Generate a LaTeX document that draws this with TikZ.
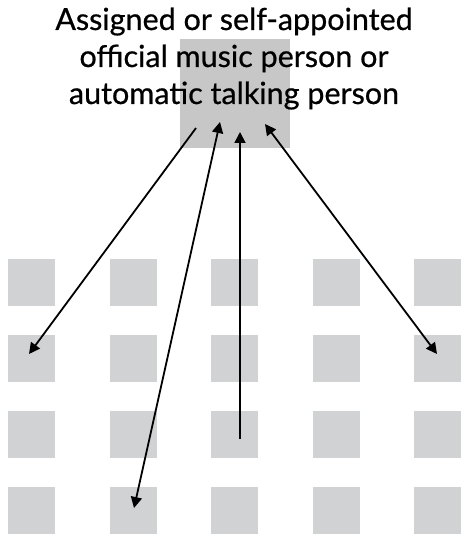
\documentclass[tikz,border=0pt]{standalone}
\usepackage{fontspec}
\setmainfont{Lato}[FakeBold=0.6]
\usetikzlibrary{arrows.meta}
\definecolor{topgray}{HTML}{C7C7C8}
\definecolor{gridgray}{HTML}{D1D2D4}
\tikzset{
  cell/.style={fill=gridgray,draw=none,minimum width=47pt,minimum height=47pt,inner sep=0pt,outer sep=0pt,anchor=north west},
  topbox/.style={fill=topgray,draw=none,minimum width=110pt,minimum height=109pt,inner sep=0pt,anchor=north west},
  conn/.style={line width=1.8pt,-{Triangle[length=11pt,width=11pt]}},
  conn2/.style={line width=1.8pt,{Triangle[length=11pt,width=11pt]}-{Triangle[length=11pt,width=11pt]}},
  title/.style={font=\fontsize{30.5}{37}\selectfont\bfseries,align=center,inner sep=0pt}
}
\begin{document}
\begin{tikzpicture}[x=1pt,y=-1pt]
\useasboundingbox (0,0) rectangle (461,537);
\node[topbox] (top) at (180,39) {};
\foreach \r/\yy in {0/259,1/335,2/411,3/487}{
  \foreach \c/\xx in {0/8,1/110,2/211,3/313,4/414}{
    \node[cell] (g\r\c) at (\xx,\yy) {};
  }
}
\node[title,font=\fontsize{30.5}{37}\selectfont,anchor=base] (lab) at (234,104) {Assigned or self-appointed\\official music person or\\automatic talking person};
\coordinate (a1s) at (196,128);
\coordinate (a1e) at (29,354);
\coordinate (a2s) at (220,122);
\coordinate (a2e) at (134,508);
\coordinate (a3s) at (240,439);
\coordinate (a3e) at (240,132);
\coordinate (a4s) at (265,124);
\coordinate (a4e) at (437,354);
\draw[conn] (a1s) -- (a1e);
\draw[conn2] (a2s) -- (a2e);
\draw[conn] (a3s) -- (a3e);
\draw[conn2] (a4s) -- (a4e);
\end{tikzpicture}
\end{document}
